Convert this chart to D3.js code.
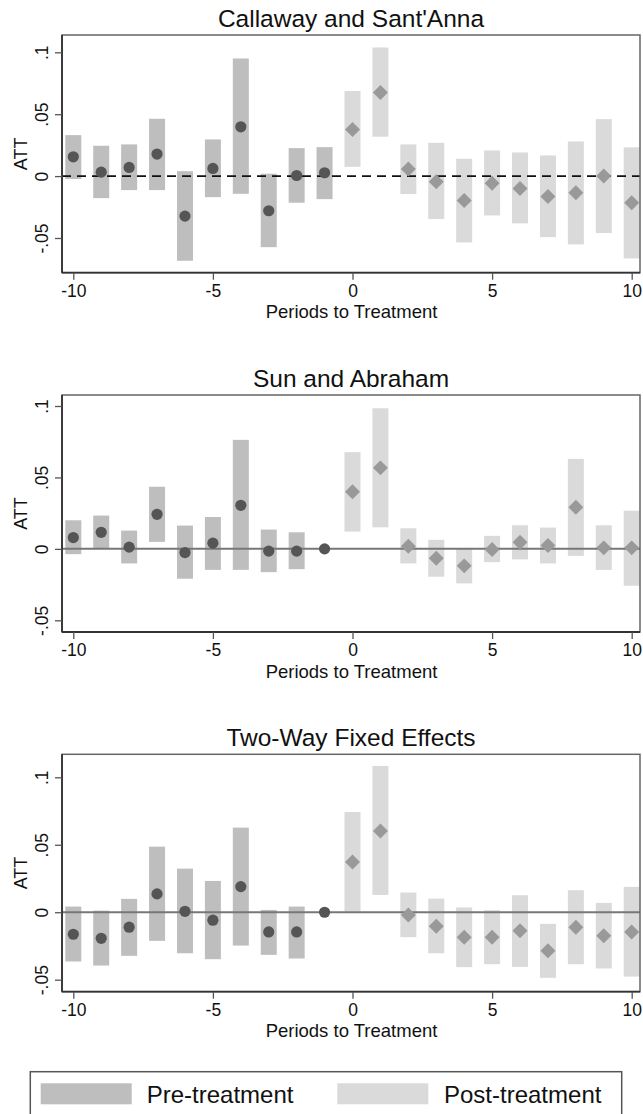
<!DOCTYPE html>
<html>
<head>
<meta charset="utf-8">
<script src="https://cdn.jsdelivr.net/npm/d3@7"></script>
<style>
  html, body { margin: 0; padding: 0; background: #fff; }
  svg { display: block; font-family: "Liberation Sans", Arial, sans-serif; }
</style>
</head>
<body>
<svg id="chart" width="643" height="1114"></svg>
<script>
// Event-time periods relative to treatment
const periods = [-10, -9, -8, -7, -6, -5, -4, -3, -2, -1, 0, 1, 2, 3, 4, 5, 6, 7, 8, 9, 10];

// Callaway and Sant'Anna: point estimates and 95% CI bounds
const csEst = [0.0156, 0.0032, 0.0070, 0.0178, -0.0323, 0.0062, 0.0398, -0.0280, 0.0005, 0.0027,
               0.0377, 0.0676, 0.0057, -0.0046, -0.0197, -0.0057, -0.0100, -0.0164, -0.0135, 0.0000, -0.0215];
const csLo  = [-0.0024, -0.0178, -0.0113, -0.0113, -0.0684, -0.0170, -0.0143, -0.0574, -0.0215, -0.0186,
               0.0075, 0.0318, -0.0145, -0.0347, -0.0536, -0.0318, -0.0382, -0.0493, -0.0552, -0.0460, -0.0665];
const csHi  = [0.0331, 0.0245, 0.0256, 0.0463, 0.0040, 0.0296, 0.0950, 0.0019, 0.0226, 0.0234,
               0.0687, 0.1039, 0.0256, 0.0269, 0.0140, 0.0207, 0.0191, 0.0167, 0.0280, 0.0460, 0.0232];

// Sun and Abraham (period -1 is the reference, no interval)
const saEst = [0.0079, 0.0116, 0.0012, 0.0242, -0.0026, 0.0040, 0.0305, -0.0016, -0.0016, 0.0000,
               0.0400, 0.0567, 0.0019, -0.0065, -0.0119, -0.0005, 0.0047, 0.0023, 0.0291, 0.0007, 0.0007];
const saLo  = [-0.0037, 0.0000, -0.0102, 0.0049, -0.0209, -0.0147, -0.0147, -0.0163, -0.0142, null,
               0.0121, 0.0151, -0.0102, -0.0195, -0.0242, -0.0093, -0.0074, -0.0102, -0.0049, -0.0147, -0.0258];
const saHi  = [0.0200, 0.0233, 0.0128, 0.0435, 0.0163, 0.0223, 0.0763, 0.0135, 0.0116, null,
               0.0677, 0.0984, 0.0144, 0.0063, 0.0000, 0.0091, 0.0165, 0.0149, 0.0630, 0.0165, 0.0267];

// Two-way fixed effects (period -1 is the reference, no interval)
const twEst = [-0.0163, -0.0193, -0.0111, 0.0136, 0.0007, -0.0059, 0.0190, -0.0146, -0.0146, 0.0000,
               0.0373, 0.0602, -0.0020, -0.0104, -0.0185, -0.0185, -0.0138, -0.0286, -0.0111, -0.0175, -0.0146];
const twLo  = [-0.0365, -0.0395, -0.0323, -0.0212, -0.0304, -0.0348, -0.0247, -0.0316, -0.0343, null,
               0.0005, 0.0128, -0.0185, -0.0304, -0.0407, -0.0385, -0.0405, -0.0486, -0.0385, -0.0417, -0.0477];
const twHi  = [0.0042, 0.0012, 0.0099, 0.0486, 0.0323, 0.0232, 0.0627, 0.0017, 0.0042, null,
               0.0743, 0.1084, 0.0146, 0.0101, 0.0035, 0.0015, 0.0126, -0.0086, 0.0163, 0.0069, 0.0188];

const panelTitles = ["Callaway and Sant'Anna", "Sun and Abraham", "Two-Way Fixed Effects"];
const xTicks = [-10, -5, 0, 5, 10];
const yTicks = [-0.05, 0, 0.05, 0.1];
const yTickLabels = ["-.05", "0", ".05", ".1"];
const legendLabels = ["Pre-treatment", "Post-treatment"];

// Styles
const preBar = "#bebebe", postBar = "#dadada";
const preMarker = "#555555", postMarker = "#999999";
const textColor = "#111";

const svg = d3.select("#chart");
svg.append("rect").attr("width", 643).attr("height", 1114).attr("fill", "#fff");

// Shared horizontal scale
const plotLeft = 62, plotRight = 640;
const x = d3.scaleLinear().domain([-10, 10]).range([73.3, 631.7]);

// Panel layout: plot box and pixel positions of y = -0.05 and y = 0.1
const layout = [
  { top: 35,    bottom: 272.7, yNeg: 238,   yPos: 52.3,  dashed: true },
  { top: 395,   bottom: 632,   yNeg: 620.3, yPos: 406,   dashed: false },
  { top: 754.3, bottom: 991.7, yNeg: 979.7, yPos: 777.3, dashed: false }
];

const series = [
  { est: csEst, lo: csLo, hi: csHi },
  { est: saEst, lo: saLo, hi: saHi },
  { est: twEst, lo: twLo, hi: twHi }
];

const barW = 16;
// Square diamond: a square symbol turned 45 degrees
const diamond = d3.symbol().type(d3.symbolSquare).size(112);

layout.forEach((L, p) => {
  const y = d3.scaleLinear().domain([-0.05, 0.1]).range([L.yNeg, L.yPos]);
  const s = series[p];
  const rows = periods.map((t, i) => ({ t, est: s.est[i], lo: s.lo[i], hi: s.hi[i], post: t >= 0 }));
  const g = svg.append("g");

  // Title
  g.append("text")
    .attr("x", (plotLeft + plotRight) / 2).attr("y", L.top - 8)
    .attr("text-anchor", "middle").attr("font-size", 24.5).attr("fill", textColor)
    .text(panelTitles[p]);

  // Confidence interval bars
  g.selectAll("rect.ci").data(rows.filter(d => d.lo !== null))
    .join("rect").attr("class", "ci")
    .attr("x", d => x(d.t) - barW / 2)
    .attr("width", barW)
    .attr("y", d => y(d.hi))
    .attr("height", d => y(d.lo) - y(d.hi))
    .attr("fill", d => d.post ? postBar : preBar);

  // Zero reference line
  g.append("line")
    .attr("x1", plotLeft).attr("x2", plotRight)
    .attr("y1", y(0)).attr("y2", y(0))
    .attr("stroke", L.dashed ? "#111" : "#777")
    .attr("stroke-width", L.dashed ? 1.6 : 2)
    .attr("stroke-dasharray", L.dashed ? "9,6" : null);

  // Point estimates: circles before treatment, diamonds after
  g.selectAll("circle.pre").data(rows.filter(d => !d.post))
    .join("circle").attr("class", "pre")
    .attr("cx", d => x(d.t)).attr("cy", d => y(d.est))
    .attr("r", 5.6).attr("fill", preMarker);
  g.selectAll("path.post").data(rows.filter(d => d.post))
    .join("path").attr("class", "post")
    .attr("transform", d => `translate(${x(d.t)},${y(d.est)}) rotate(45)`)
    .attr("d", diamond).attr("fill", postMarker);

  // Plot frame
  g.append("rect")
    .attr("x", plotLeft).attr("y", L.top)
    .attr("width", plotRight - plotLeft).attr("height", L.bottom - L.top)
    .attr("fill", "none").attr("stroke", "#666").attr("stroke-width", 1.5);

  // Y axis
  const yAxis = d3.axisLeft(y).tickValues(yTicks)
    .tickFormat((d, i) => yTickLabels[i]).tickSize(7).tickPadding(6);
  const ya = g.append("g").attr("transform", `translate(${plotLeft},0)`).call(yAxis);
  ya.select(".domain").attr("d", `M0,${L.top}V${L.bottom}`).attr("stroke", "#333").attr("stroke-width", 1.8);
  ya.selectAll(".tick line").attr("stroke", "#555").attr("stroke-width", 1.3);
  ya.selectAll(".tick text")
    .attr("font-size", 17.5).attr("fill", textColor)
    .attr("text-anchor", "middle").attr("dy", 0)
    .attr("x", 0).attr("y", 0)
    .attr("transform", "translate(-14,0) rotate(-90)");

  // Y title
  g.append("text")
    .attr("transform", `translate(27,${(L.top + L.bottom) / 2}) rotate(-90)`)
    .attr("text-anchor", "middle").attr("font-size", 18).attr("fill", textColor)
    .text("ATT");

  // X axis
  const xAxis = d3.axisBottom(x).tickValues(xTicks).tickFormat(d3.format("d")).tickSize(7).tickPadding(5);
  const xa = g.append("g").attr("transform", `translate(0,${L.bottom})`).call(xAxis);
  xa.select(".domain").attr("d", `M${plotLeft},0H${plotRight}`).attr("stroke", "#333").attr("stroke-width", 1.8);
  xa.selectAll(".tick line").attr("stroke", "#555").attr("stroke-width", 1.3);
  xa.selectAll(".tick text").attr("font-size", 17.5).attr("fill", textColor)
    .text(d => d < 0 ? "-" + Math.abs(d) : String(d));

  // X title
  g.append("text")
    .attr("x", (plotLeft + plotRight) / 2 + 0.5).attr("y", L.bottom + 45.5)
    .attr("text-anchor", "middle").attr("font-size", 18.5).attr("fill", textColor)
    .text("Periods to Treatment");
});

// Legend
const lg = svg.append("g");
lg.append("rect")
  .attr("x", 30.3).attr("y", 1071.7).attr("width", 591.4).attr("height", 60)
  .attr("fill", "#fff").attr("stroke", "#555").attr("stroke-width", 1.5);
const legendItems = [
  { label: legendLabels[0], color: preBar, sx: 40.7, tx: 146.7 },
  { label: legendLabels[1], color: postBar, sx: 337.3, tx: 444 }
];
legendItems.forEach(it => {
  lg.append("rect").attr("x", it.sx).attr("y", 1083.3).attr("width", 91).attr("height", 21).attr("fill", it.color);
  lg.append("text").attr("x", it.tx).attr("y", 1103).attr("font-size", 24).attr("fill", textColor).text(it.label);
});
</script>
</body>
</html>
